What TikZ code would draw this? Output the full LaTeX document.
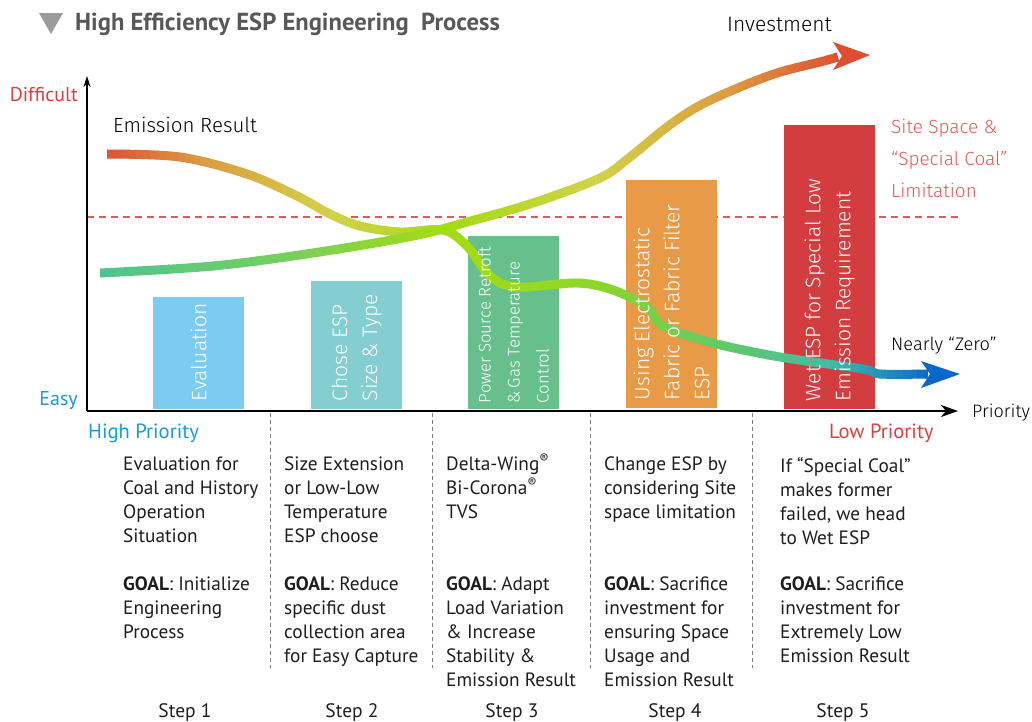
\documentclass[tikz,border=0pt]{standalone}
\usepackage{fontspec}
\setmainfont{PT Sans}
\IfFontExistsTF{Fira Sans Light}{\newfontfamily\thinfont{Fira Sans Light}}{%
  \IfFontExistsTF{Lato Light}{\newfontfamily\thinfont{Lato Light}}{%
    \newfontfamily\thinfont{PT Sans}}}
\usetikzlibrary{arrows.meta}

\definecolor{titlegray}{HTML}{585858}
\definecolor{trigray}{HTML}{9B9B9B}
\definecolor{easyblue}{HTML}{1A9AD8}
\definecolor{hardred}{HTML}{D94040}
\definecolor{limitred}{HTML}{E05A5A}
\definecolor{inkgray}{HTML}{1E1E1E}
\definecolor{barA}{HTML}{7DCBF0}
\definecolor{barB}{HTML}{84CDD0}
\definecolor{barC}{HTML}{67BF8C}
\definecolor{barD}{HTML}{E89A47}
\definecolor{barE}{HTML}{D33D3F}
% curve colours
\definecolor{cteal}{HTML}{4DC493}
\definecolor{cgreen}{HTML}{7AD05A}
\definecolor{clime}{HTML}{A2DC12}
\definecolor{cgrass}{HTML}{8CD62C}
\definecolor{cleaf}{HTML}{62CA66}
\definecolor{cyellow}{HTML}{D2D24A}
\definecolor{corange}{HTML}{DB9A42}
\definecolor{cred}{HTML}{DF4E30}
\definecolor{cmint}{HTML}{45BBA4}
\definecolor{cblue}{HTML}{0A68CC}

\tikzset{
  curve/.style={line width=9pt},
  bar/.style={fill=#1, inner sep=0pt, minimum width=91pt},
  barlabel/.style={rotate=90, anchor=west, inner sep=0pt, align=left, text=white,
    font=\thinfont\fontsize{21}{30}\selectfont},
  body/.style={anchor=north west, inner sep=0pt, align=left, text=inkgray,
    font=\fontsize{19.3}{24}\selectfont, execute at begin node=\rule{0pt}{16pt}},
  steplabel/.style={anchor=base, inner sep=0pt, text=inkgray, font=\fontsize{19.5}{24}\selectfont},
  axis/.style={line width=1.4pt},
  stepline/.style={draw=gray, line width=0.8pt, dash pattern=on 4pt off 3pt},
  thinlabel/.style={inner sep=0pt, font=\thinfont\fontsize{19}{32}\selectfont}
}

% curve stroked in vertical strips, colour running from #4 to #5 between x=#2 and x=#3
\newcommand\gradstroke[5]{%
  \foreach \i in {0,...,13}{%
    \pgfmathsetmacro\xa{#2+(#3-#2)*\i/14}%
    \pgfmathsetmacro\xb{#2+(#3-#2)*(\i+1)/14+0.8}%
    \pgfmathsetmacro\pc{100*(\i+0.5)/14}%
    \begin{scope}
      \clip (\xa,0) rectangle (\xb,721);
      \draw[curve, draw=#5!\pc!#4] #1;
    \end{scope}
  }}
\newcommand\regmark{\smash{\textsuperscript{®}}}

\def\investpath{plot[smooth, tension=0.55] coordinates {(100,273) (213,266) (313,253)
  (413,236) (467,222) (533,203) (600,178) (630,157) (667,127) (697,107) (733,90)
  (777,73) (820,62) (838,57)}}
\def\emitpath{plot[smooth, tension=0.55] coordinates {(107,154) (180,157) (247,174)
  (297,196) (330,214) (360,226) (400,232) (443,230) (467,246) (490,276) (517,287)
  (577,283) (613,290) (647,307) (663,326) (713,343) (780,357) (863,369) (880,374)
  (928,374)}}

\begin{document}
\begin{tikzpicture}[x=1pt, y=-1pt]
\useasboundingbox (0,0) rectangle (1032,721);

% title
\fill[trigray] (39,13) -- (63,13) -- (51,34) -- cycle;
\node[anchor=base west, inner sep=0pt, text=titlegray, font=\bfseries\fontsize{24.6}{27}\selectfont]
  (title) at (75,30) {High Efficiency ESP Engineering\ \ Process};

% limit line
\draw[limitred, line width=1.2pt, dash pattern=on 7pt off 5pt] (87,217) -- (960,217);

% bars
\node[bar=barA, minimum height=112pt] (evalbar) at (198.5,353) {};
\node[bar=barB, minimum height=128pt] (sizebar) at (356.5,345) {};
\node[bar=barC, minimum height=173pt] (powerbar) at (513.5,322.5) {};
\node[bar=barD, minimum height=228pt] (fabricbar) at (671.5,294) {};
\node[bar=barE, minimum height=284pt] (wetbar) at (829.5,267) {};

% curves
\gradstroke{\emitpath}{100}{200}{cred}{corange}
\gradstroke{\emitpath}{200}{330}{corange}{cyellow}
\gradstroke{\emitpath}{330}{460}{cyellow}{clime}
\gradstroke{\emitpath}{460}{600}{clime}{cgrass}
\gradstroke{\emitpath}{600}{720}{cgrass}{cleaf}
\gradstroke{\emitpath}{720}{830}{cleaf}{cmint}
\gradstroke{\emitpath}{830}{932}{cmint}{cblue}
\fill[cblue] (921,361) -- (960,374) -- (921,388) -- (930,374) -- cycle;

\gradstroke{\investpath}{95}{300}{cteal}{cgreen}
\gradstroke{\investpath}{300}{440}{cgreen}{clime}
\gradstroke{\investpath}{440}{600}{clime}{cyellow}
\gradstroke{\investpath}{600}{730}{cyellow}{corange}
\gradstroke{\investpath}{730}{842}{corange}{cred}
\fill[cred] (833,42) -- (870,55) -- (833,70) -- (842,56) -- cycle;

% bar labels
\node[barlabel] (evallabel) at ([yshift=8pt]evalbar.south) {Evaluation};
\node[barlabel] (sizelabel) at ([yshift=8pt]sizebar.south) {Chose ESP\\Size \& Type};
\node[barlabel, font=\thinfont\fontsize{16.8}{29}\selectfont] (powerlabel) at ([yshift=6pt]powerbar.south)
  {Power Source Retroft\\\&\,Gas Temperature\\Control};
\node[barlabel] (fabriclabel) at ([yshift=8pt]fabricbar.south) {Using Electrostatic\\Fabric or Fabric Filter\\ESP};
\node[barlabel] (wetlabel) at ([yshift=8pt]wetbar.south) {Wet ESP for Special Low\\Emission Requirement};

% axes
\coordinate (origin) at (87,411);
\coordinate (ytop) at (87,76);
\coordinate (xend) at (958,411);
\draw[axis, -{Stealth[length=11pt, width=7pt]}] (origin) -- (ytop);
\draw[axis, -{Stealth[length=17pt, width=12pt, inset=5pt]}] (origin) -- (xend);

\node[anchor=base east, inner sep=0pt, text=hardred, font=\fontsize{20}{24}\selectfont] (difficult) at (78,101) {Difficult};
\node[anchor=base east, inner sep=0pt, text=easyblue, font=\fontsize{20}{24}\selectfont] (easy) at (78,405) {Easy};
\node[anchor=base west, inner sep=0pt, text=easyblue, font=\fontsize{20.6}{24}\selectfont] (highprio) at (88,438) {High Priority};
\node[anchor=base west, inner sep=0pt, text=hardred, font=\fontsize{20.6}{24}\selectfont] (lowprio) at (829,438) {Low Priority};
\node[thinlabel, anchor=base west, font=\thinfont\fontsize{18}{24}\selectfont] (priority) at (972,417) {Priority};

% curve labels
\node[thinlabel, anchor=base west, font=\thinfont\fontsize{20.5}{24}\selectfont] (emission) at (113,132) {Emission Result};
\node[thinlabel, anchor=base west, font=\thinfont\fontsize{21}{24}\selectfont] (invest) at (727,31) {Investment};
\node[thinlabel, anchor=base west, font=\thinfont\fontsize{18.2}{24}\selectfont] (zero) at (891,350) {Nearly “Zero”};
\node[thinlabel, anchor=base west, align=left, text=limitred] (sitespace) at (891,197) {Site Space \&\\“Special Coal”\\Limitation};

% step columns
\foreach \x in {270,432,590,752}
  \draw[stepline] (\x,413) -- (\x,668);

\node[body] (desc1) at (123,457) {Evaluation for\\Coal and History\\Operation\\Situation};
\node[body] (goal1) at (123,577) {\textbf{GOAL}: Initialize\\Engineering\\Process};
\node[body] (desc2) at (284,457) {Size Extension\\or Low-Low\\Temperature\\ESP choose};
\node[body] (goal2) at (284,577) {\textbf{GOAL}: Reduce\\specific dust\\collection area\\for Easy Capture};
\node[body] (desc3) at (446,457) {Delta-Wing\regmark\\Bi-Corona\regmark\\TVS};
\node[body] (goal3) at (446,577) {\textbf{GOAL}: Adapt\\Load Variation\\\& Increase\\Stability \&\\Emission Result};
\node[body] (desc4) at (604,457) {Change ESP by\\considering Site\\space limitation};
\node[body] (goal4) at (604,577) {\textbf{GOAL}: Sacrifice\\investment for\\ensuring Space\\Usage and\\Emission Result};
\node[body] (desc5) at (780,457) {If “Special Coal”\\makes former\\failed, we head\\to Wet ESP};
\node[body] (goal5) at (780,577) {\textbf{GOAL}: Sacrifice\\investment for\\Extremely Low\\Emission Result};

\foreach \x/\n in {185/1,352/2,512/3,675/4,843/5}
  \node[steplabel] (step\n) at (\x,717) {Step \n};
\end{tikzpicture}
\end{document}
